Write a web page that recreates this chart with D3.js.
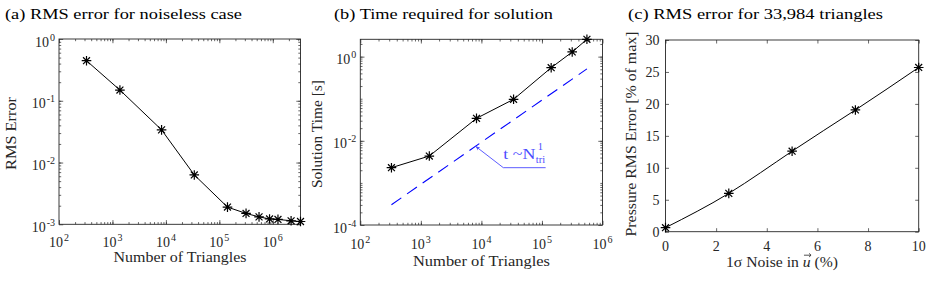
<!DOCTYPE html>
<html><head><meta charset="utf-8">
<script src="https://cdn.jsdelivr.net/npm/d3@7"></script>
<style>body{margin:0;background:#fff}svg{display:block}</style>
</head><body>
<svg id="c" width="926" height="282"></svg>
<script>
// ---------- data ----------
const trianglesA = [327, 1380, 8300, 33984, 142000, 316000, 553000, 870000, 1250000, 2200000, 3300000];
const rmsErrorA  = [0.445, 0.149, 0.0338, 0.0063, 0.0019, 0.0015, 0.00132, 0.00122, 0.0012, 0.00114, 0.00111];
const trianglesB = [327, 1380, 8300, 33984, 142000, 316000, 553000];
const solveTimeB = [0.0023, 0.00435, 0.0342, 0.0968, 0.545, 1.29, 2.58];
const fitCoeffB  = 9.27e-7;           // t ~ N^1 reference line
const fitRangeB  = [327, 553000];
const annotTipN  = 8000;              // arrow tip on reference line
const annotAnchor = [23000, 0.0023];  // text anchor (N, t)
const annotEndN  = 115000;
const noisePct   = [0, 2.5, 5, 7.5, 10];
const pressureErr = [0.63, 6.0, 12.6, 19.05, 25.7];
const xExpA = [2, 3, 4, 5, 6];
const yExpA = [-3, -2, -1, 0];
const xExpB = [2, 3, 4, 5, 6];
const yExpB = [-4, -2, 0];
const xTicksC = [0, 2, 4, 6, 8, 10];
const yTicksC = [0, 5, 10, 15, 20, 25, 30];
const titles = ["(a) RMS error for noiseless case", "(b) Time required for solution", "(c) RMS error for 33,984 triangles"];

// ---------- style ----------
const FONT = "'Liberation Serif','Times New Roman',serif";
const AX = "#262626";
const TF = 14, SF = 10;
const svg = d3.select("#c");

function logMinors(dom) {
  const out = [];
  const lo = Math.floor(Math.log10(dom[0])), hi = Math.ceil(Math.log10(dom[1]));
  for (let e = lo; e <= hi; e++) for (let k = 1; k <= 9; k++) {
    const v = k * Math.pow(10, e);
    if (v > dom[0] * 1.0001 && v < dom[1] * 0.9999) out.push(v);
  }
  return out;
}

function ticksAll(g, x, y, xv, yv, len) {
  const [x0, x1] = x.range(), [y0, y1] = y.range();
  const defs = [
    [d3.axisBottom(x), xv, `translate(0,${y0})`],
    [d3.axisTop(x), xv, `translate(0,${y1})`],
    [d3.axisLeft(y), yv, `translate(${x0},0)`],
    [d3.axisRight(y), yv, `translate(${x1},0)`]
  ];
  defs.forEach(([ax, vals, tr]) => {
    const a = g.append("g").attr("transform", tr)
      .call(ax.tickValues(vals).tickSizeInner(-len).tickSizeOuter(0).tickFormat(""));
    a.select(".domain").remove();
    a.selectAll("line").attr("stroke", AX).attr("stroke-width", 0.7);
  });
}

function frame(g, x, y) {
  const [x0, x1] = x.range(), [y0, y1] = y.range();
  g.append("rect").attr("x", x0).attr("y", y1).attr("width", x1 - x0).attr("height", y0 - y1)
    .attr("fill", "none").attr("stroke", AX).attr("stroke-width", 0.9);
}

function logXLabels(g, x, exps, base) {
  exps.forEach(e => {
    const t = g.append("text").attr("x", x(Math.pow(10, e))).attr("y", base)
      .attr("text-anchor", "middle").attr("font-family", FONT).attr("font-size", TF).attr("fill", AX);
    t.append("tspan").text("10");
    t.append("tspan").attr("dx", 1).attr("dy", -6).attr("font-size", SF).text(String(e));
  });
}
function logYLabels(g, x, y, exps) {
  const x0 = x.range()[0];
  exps.forEach(e => {
    const t = g.append("text").attr("x", x0 - 4).attr("y", y(Math.pow(10, e)) + 7.5)
      .attr("text-anchor", "end").attr("font-family", FONT).attr("font-size", TF).attr("fill", AX);
    t.append("tspan").text("10");
    t.append("tspan").attr("dx", 1).attr("dy", -6).attr("font-size", SF).text(e < 0 ? "-" + Math.abs(e) : String(e));
  });
}
function title(txt, x, len) {
  svg.append("text").attr("x", x).attr("y", 19).attr("font-family", FONT).attr("font-size", 15)
    .attr("fill", "#000").attr("textLength", len).attr("lengthAdjust", "spacingAndGlyphs").text(txt);
}
function xLabel(txt, cx, base, len) {
  return svg.append("text").attr("x", cx).attr("y", base).attr("text-anchor", "middle")
    .attr("font-family", FONT).attr("font-size", 14.5).attr("fill", AX)
    .attr("textLength", len).attr("lengthAdjust", "spacingAndGlyphs").text(txt);
}
function yLabel(txt, bx, cy, len) {
  svg.append("text").attr("transform", `translate(${bx},${cy}) rotate(-90)`).attr("text-anchor", "middle")
    .attr("font-family", FONT).attr("font-size", 14.5).attr("fill", AX)
    .attr("textLength", len).attr("lengthAdjust", "spacingAndGlyphs").text(txt);
}
function starPath(s) {
  const d = s * 0.72;
  return `M${-s},0H${s}M0,${-s}V${s}M${-d},${-d}L${d},${d}M${-d},${d}L${d},${-d}`;
}
function series(g, x, y, xs, ys, curve) {
  const pts = xs.map((v, i) => [v, ys[i]]);
  g.append("path").datum(pts)
    .attr("d", d3.line().x(d => x(d[0])).y(d => y(d[1])).curve(curve || d3.curveLinear))
    .attr("fill", "none").attr("stroke", "#000").attr("stroke-width", 1);
  g.selectAll(null).data(pts).join("path")
    .attr("transform", d => `translate(${x(d[0])},${y(d[1])})`)
    .attr("d", starPath(4.8)).attr("fill", "none").attr("stroke", "#000").attr("stroke-width", 1.2);
}

// ---------- panel (a) ----------
{
  const x = d3.scaleLog().domain([100, d3.max(trianglesA)]).range([59, 300.5]);
  const y = d3.scaleLog().domain([1e-3, 1]).range([224.3, 39]);
  const g = svg.append("g");
  ticksAll(g, x, y, logMinors(x.domain()), logMinors(y.domain()), 2.2);
  ticksAll(g, x, y, xExpA.map(e => Math.pow(10, e)), yExpA.map(e => Math.pow(10, e)), 4.2);
  frame(g, x, y);
  series(g, x, y, trianglesA, rmsErrorA);
  logXLabels(g, x, xExpA, 247);
  logYLabels(g, x, y, yExpA);
  title(titles[0], 5, 237);
  xLabel("Number of Triangles", 180, 261.5, 133);
  yLabel("RMS Error", 15.5, 133.5, 73);
}

// ---------- panel (b) ----------
{
  const x = d3.scaleLog().domain([100, 1e6]).range([360.3, 602.5]);
  const y = d3.scaleLog().domain([1e-4, d3.max(solveTimeB)]).range([225, 39.3]);
  const g = svg.append("g");
  ticksAll(g, x, y, logMinors(x.domain()), logMinors(y.domain()), 2.2);
  ticksAll(g, x, y, xExpB.map(e => Math.pow(10, e)), yExpB.map(e => Math.pow(10, e)), 4.2);
  frame(g, x, y);
  // reference line t ~ N
  const fit = fitRangeB.map(n => [n, fitCoeffB * n]);
  g.append("path").datum(fit).attr("d", d3.line().x(d => x(d[0])).y(d => y(d[1])))
    .attr("fill", "none").attr("stroke", "#0000ff").attr("stroke-width", 1.1)
    .attr("stroke-dasharray", "12,7");
  series(g, x, y, trianglesB, solveTimeB);
  // annotation
  const AC = "#4b4bff";
  svg.append("defs").append("marker").attr("id", "ah").attr("viewBox", "0 0 10 10")
    .attr("refX", 10).attr("refY", 5).attr("markerWidth", 5).attr("markerHeight", 5)
    .attr("orient", "auto").append("path").attr("d", "M0,1L10,5L0,9L3,5Z").attr("fill", AC);
  const ax = x(annotAnchor[0]), ay = y(annotAnchor[1]);
  g.append("path")
    .attr("d", `M${x(annotEndN)},${ay}H${ax}L${x(annotTipN)},${y(fitCoeffB * annotTipN)}`)
    .attr("fill", "none").attr("stroke", AC).attr("stroke-width", 0.9).attr("marker-end", "url(#ah)");
  g.append("text").attr("x", ax).attr("y", ay - 8.5).attr("font-family", FONT)
    .attr("font-size", 15).attr("fill", AC).attr("textLength", 32).attr("lengthAdjust", "spacingAndGlyphs").text("t ~N");
  g.append("text").attr("x", ax + 32.5).attr("y", ay - 4.3).attr("font-family", FONT)
    .attr("font-size", 10.5).attr("fill", AC).text("tri");
  g.append("text").attr("x", ax + 34.5).attr("y", ay - 17.5).attr("font-family", FONT)
    .attr("font-size", 10.5).attr("fill", AC).text("1");
  logXLabels(g, x, xExpB, 249);
  logYLabels(g, x, y, yExpB);
  title(titles[1], 334, 219);
  xLabel("Number of Triangles", 481.5, 265.5, 137);
  yLabel("Solution Time [s]", 321.5, 134, 108);
}

// ---------- panel (c) ----------
{
  const x = d3.scaleLinear().domain([0, 10]).range([665.5, 918.7]);
  const y = d3.scaleLinear().domain([0, 30]).range([231.7, 40]);
  const g = svg.append("g");
  ticksAll(g, x, y, xTicksC, yTicksC, 3.5);
  frame(g, x, y);
  series(g, x, y, noisePct, pressureErr, d3.curveNatural);
  g.selectAll(null).data(xTicksC).join("text").attr("x", d => x(d)).attr("y", 250.5)
    .attr("text-anchor", "middle").attr("font-family", FONT).attr("font-size", TF).attr("fill", AX).text(d => d);
  g.selectAll(null).data(yTicksC).join("text").attr("x", x.range()[0] - 6).attr("y", d => y(d) + 4.8)
    .attr("text-anchor", "end").attr("font-family", FONT).attr("font-size", TF).attr("fill", AX).text(d => d);
  title(titles[2], 628, 255);
  const xl = svg.append("text").attr("x", 782).attr("y", 267).attr("text-anchor", "middle")
    .attr("font-family", FONT).attr("font-size", 14.5).attr("fill", AX)
    .attr("textLength", 112).attr("lengthAdjust", "spacingAndGlyphs");
  xl.append("tspan").text("1σ Noise in ");
  xl.append("tspan").attr("font-style", "italic").text("u");
  xl.append("tspan").text(" (%)");
  // vector accent over u (drawn as a small arrow path)
  const uNode = xl.selectAll("tspan").nodes()[1];
  const ext = uNode.getExtentOfChar(0);
  const cx = ext.x + ext.width / 2 + 0.8, ty = 255.2;
  g.append("path").attr("d", `M${cx - 3.5},${ty}H${cx + 3.5}M${cx + 1.6},${ty - 1.8}L${cx + 3.6},${ty}L${cx + 1.6},${ty + 1.8}`)
    .attr("fill", "none").attr("stroke", AX).attr("stroke-width", 0.8);
  yLabel("Pressure RMS Error [% of max]", 635.5, 134, 205);
}
</script>
</body></html>
